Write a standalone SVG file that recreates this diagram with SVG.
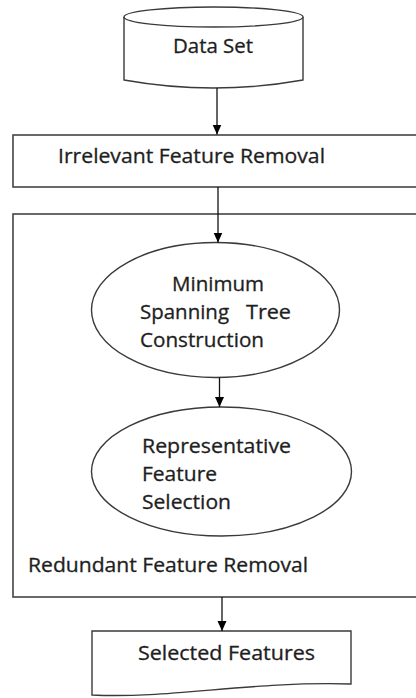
<svg xmlns="http://www.w3.org/2000/svg" width="416" height="698" viewBox="0 0 416 698">
<style>
.shape{fill:#fff;stroke:#3a3a3a;stroke-width:1.4}
.box{fill:#fff;stroke:#444;stroke-width:1.6}
.lbl{font-family:"Open Sans","Noto Sans","Liberation Sans",sans-serif;font-size:19.5px;fill:#1e1e1e;stroke:#1e1e1e;stroke-width:0.3}
.conn{fill:none;stroke:#111;stroke-width:1.3}
</style>
<defs>
<marker id="arr" markerUnits="userSpaceOnUse" markerWidth="10" markerHeight="10" refX="10" refY="5" orient="auto">
<path d="M0,0.5 L10,5 L0,9.5 Z" fill="#000"/>
</marker>
</defs>
<rect width="416" height="698" fill="#fff"/>
<g id="redundant-removal">
<rect class="box" x="13" y="214" width="410" height="383"/>
<text class="lbl" x="28" y="572" textLength="280" lengthAdjust="spacingAndGlyphs">Redundant Feature Removal</text>
</g>
<g id="irrelevant-removal">
<rect class="box" x="13" y="135" width="410" height="52"/>
<text class="lbl" x="58" y="163" textLength="267" lengthAdjust="spacingAndGlyphs">Irrelevant Feature Removal</text>
</g>
<g id="data-set">
<path class="shape" d="M124,17 L124,80 Q213.5,96 303,80 L303,17"/>
<ellipse class="shape" cx="213.5" cy="17" rx="89.5" ry="10"/>
<text class="lbl" x="173" y="53" textLength="80" lengthAdjust="spacingAndGlyphs">Data Set</text>
</g>
<g id="mst-construction">
<ellipse class="shape" cx="215.5" cy="310" rx="124" ry="67.5"/>
<text class="lbl" x="172" y="291" textLength="92" lengthAdjust="spacingAndGlyphs">Minimum</text>
<text class="lbl" y="319"><tspan x="140" textLength="89" lengthAdjust="spacingAndGlyphs">Spanning</tspan> <tspan x="246" textLength="45" lengthAdjust="spacingAndGlyphs">Tree</tspan></text>
<text class="lbl" x="140" y="347" textLength="124" lengthAdjust="spacingAndGlyphs">Construction</text>
</g>
<g id="representative-selection">
<ellipse class="shape" cx="221.5" cy="471.5" rx="130" ry="64.5"/>
<text class="lbl" x="142" y="453" textLength="149" lengthAdjust="spacingAndGlyphs">Representative</text>
<text class="lbl" x="142" y="481" textLength="75" lengthAdjust="spacingAndGlyphs">Feature</text>
<text class="lbl" x="142" y="509" textLength="89" lengthAdjust="spacingAndGlyphs">Selection</text>
</g>
<g id="selected-features">
<path class="shape" d="M92,631 L351,631 L351,684 C250,681 170,699 92,695 Z"/>
<text class="lbl" x="138" y="660" textLength="177" lengthAdjust="spacingAndGlyphs">Selected Features</text>
</g>
<g id="connectors">
<line class="conn" x1="217" y1="88" x2="217" y2="134.5" marker-end="url(#arr)"/>
<line class="conn" x1="218" y1="187" x2="218" y2="242.5" marker-end="url(#arr)"/>
<line class="conn" x1="219.5" y1="377.5" x2="219.5" y2="407" marker-end="url(#arr)"/>
<line class="conn" x1="222" y1="597" x2="222" y2="631" marker-end="url(#arr)"/>
</g>
</svg>
